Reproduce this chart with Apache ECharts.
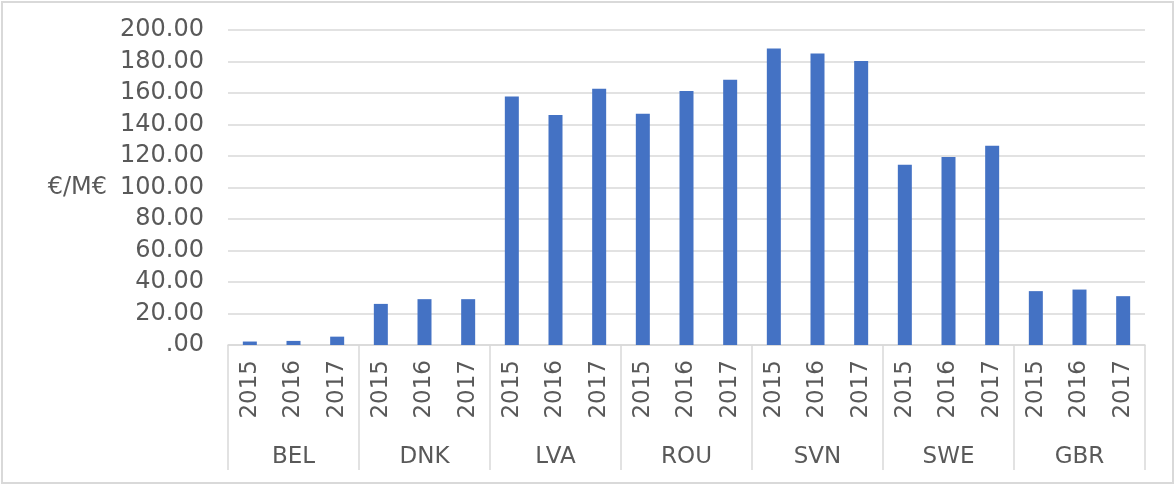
<!DOCTYPE html>
<html>
<head>
<meta charset="utf-8">
<script src="https://cdn.jsdelivr.net/npm/echarts@6/dist/echarts.min.js"></script>
<style>
  html, body { margin: 0; padding: 0; background: #fff; }
  #wrap { position: relative; width: 1175px; height: 485px; }
  #chart { width: 1175px; height: 485px; }
  #frame { position: absolute; left: 1px; top: 1px; width: 1169px; height: 479px;
           border: 2px solid #d9d9d9; pointer-events: none; }
</style>
</head>
<body>
<div id="wrap">
  <div id="chart"></div>
  <div id="frame"></div>
</div>
<script>
// country groups and years
const countries = ["BEL", "DNK", "LVA", "ROU", "SVN", "SWE", "GBR"];
const years = ["2015", "2016", "2017"];
// values per country, 2015..2017 (€/M€)
const BEL = [2.2, 2.6, 5.3];
const DNK = [26.1, 29.1, 29.1];
const LVA = [157.8, 146.0, 162.7];
const ROU = [146.8, 161.2, 168.4];
const SVN = [188.3, 185.1, 180.3];
const SWE = [114.4, 119.3, 126.5];
const GBR = [34.2, 35.2, 31.0];

const groups = [BEL, DNK, LVA, ROU, SVN, SWE, GBR];
const yearCats = [];
const values = [];
countries.forEach((c, i) => {
  years.forEach((y, j) => {
    yearCats.push(c + "-" + y);
    values.push(groups[i][j]);
  });
});

const textColor = "#595959";
const font = "DejaVu Sans";

const chart = echarts.init(document.getElementById("chart"));
chart.setOption({
  animation: false,
  grid: { left: 228, right: 30, top: 30, bottom: 140 },
  xAxis: [
    {
      type: "category",
      data: yearCats,
      axisLine: { lineStyle: { color: "#d9d9d9", width: 1.5 } },
      axisTick: { show: false },
      axisLabel: {
        rotate: 90,
        margin: 15,
        interval: 0,
        color: textColor,
        fontFamily: font,
        fontSize: 23,
        formatter: v => v.split("-")[1]
      }
    },
    {
      type: "category",
      data: countries,
      position: "bottom",
      axisLine: { show: false },
      axisTick: { show: true, length: 125, lineStyle: { color: "#d9d9d9", width: 1.5 } },
      axisLabel: {
        margin: 101,
        color: textColor,
        fontFamily: font,
        fontSize: 23
      }
    }
  ],
  yAxis: {
    type: "value",
    min: 0,
    max: 200,
    interval: 20,
    name: "€/M€",
    nameLocation: "middle",
    nameRotate: 0,
    nameGap: 121,
    nameTextStyle: { color: textColor, fontFamily: font, fontSize: 24, align: "right" },
    axisLine: { show: false },
    axisTick: { show: false },
    splitLine: { lineStyle: { color: "#d9d9d9", width: 1.5 } },
    axisLabel: {
      margin: 24,
      color: textColor,
      fontFamily: font,
      fontSize: 24,
      formatter: v => (v === 0 ? ".00" : v.toFixed(2))
    }
  },
  series: [
    {
      type: "bar",
      data: values,
      barWidth: 14,
      itemStyle: { color: "#4472c4" }
    }
  ]
});
</script>
</body>
</html>
